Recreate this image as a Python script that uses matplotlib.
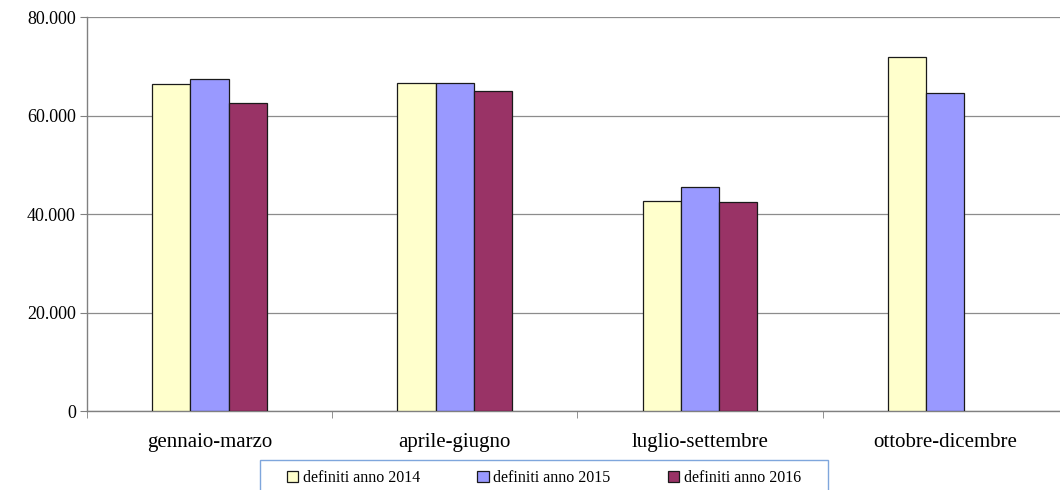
import matplotlib.pyplot as plt
import numpy as np
from matplotlib.ticker import FuncFormatter, FixedLocator
from matplotlib.patches import Rectangle

categories = ['gennaio-marzo', 'aprile-giugno', 'luglio-settembre', 'ottobre-dicembre']
series_names = ['definiti anno 2014', 'definiti anno 2015', 'definiti anno 2016']
v2014 = [66400, 66600, 42600, 71900]
v2015 = [67400, 66600, 45500, 64600]
v2016 = [62500, 65000, 42400, np.nan]
colors = ['#FFFFCC', '#9999FF', '#993366']

plt.rcParams['font.family'] = ['Liberation Serif', 'DejaVu Serif']

fig = plt.figure(figsize=(10.6, 4.9), dpi=100)
ax = fig.add_axes([0.082, 0.161, 0.9255, 0.804])

x = np.arange(len(categories))
w = 0.156
for i, (vals, name, c) in enumerate(zip([v2014, v2015, v2016], series_names, colors)):
    ax.bar(x + (i - 1) * w, vals, width=w, color=c, edgecolor='#1a1a1a',
           linewidth=0.9, label=name, zorder=3)

ax.set_xlim(-0.5, 3.5)
ax.set_ylim(0, 80000)
ax.set_yticks(np.arange(0, 80001, 20000))
ax.yaxis.set_major_formatter(FuncFormatter(lambda v, p: f'{int(v):,}'.replace(',', '.')))
ax.yaxis.grid(True, color='#8c8c8c', linewidth=0.9, zorder=0)

ax.set_xticks(x)
ax.set_xticklabels(categories)
ax.xaxis.set_minor_locator(FixedLocator(np.arange(-0.5, 4.0, 1.0)))
ax.tick_params(axis='x', which='major', length=0, labelsize=15, pad=16)
ax.tick_params(axis='x', which='minor', length=5, color='#808080', direction='out')
ax.tick_params(axis='y', length=5, color='#808080', labelsize=13, direction='out', pad=3)

for s in ['top', 'right']:
    ax.spines[s].set_visible(False)
for s in ['left', 'bottom']:
    ax.spines[s].set_color('#808080')
    ax.spines[s].set_linewidth(1.0)

# legend box, partly cut off by the bottom of the picture
frame = Rectangle((260 / 1060, -0.05), 568 / 1060, 0.05 + 30 / 490,
                  transform=fig.transFigure, fill=False,
                  edgecolor='#7fa6dc', linewidth=1.0)
fig.patches.append(frame)
fig.legend(loc='center', bbox_to_anchor=(544 / 1060, 1 - 478 / 490),
           ncol=3, fontsize=11.5, frameon=False,
           handlelength=0.7, handleheight=0.7, handletextpad=0.3,
           columnspacing=3.6)

fig.savefig('out.png', dpi=100)
